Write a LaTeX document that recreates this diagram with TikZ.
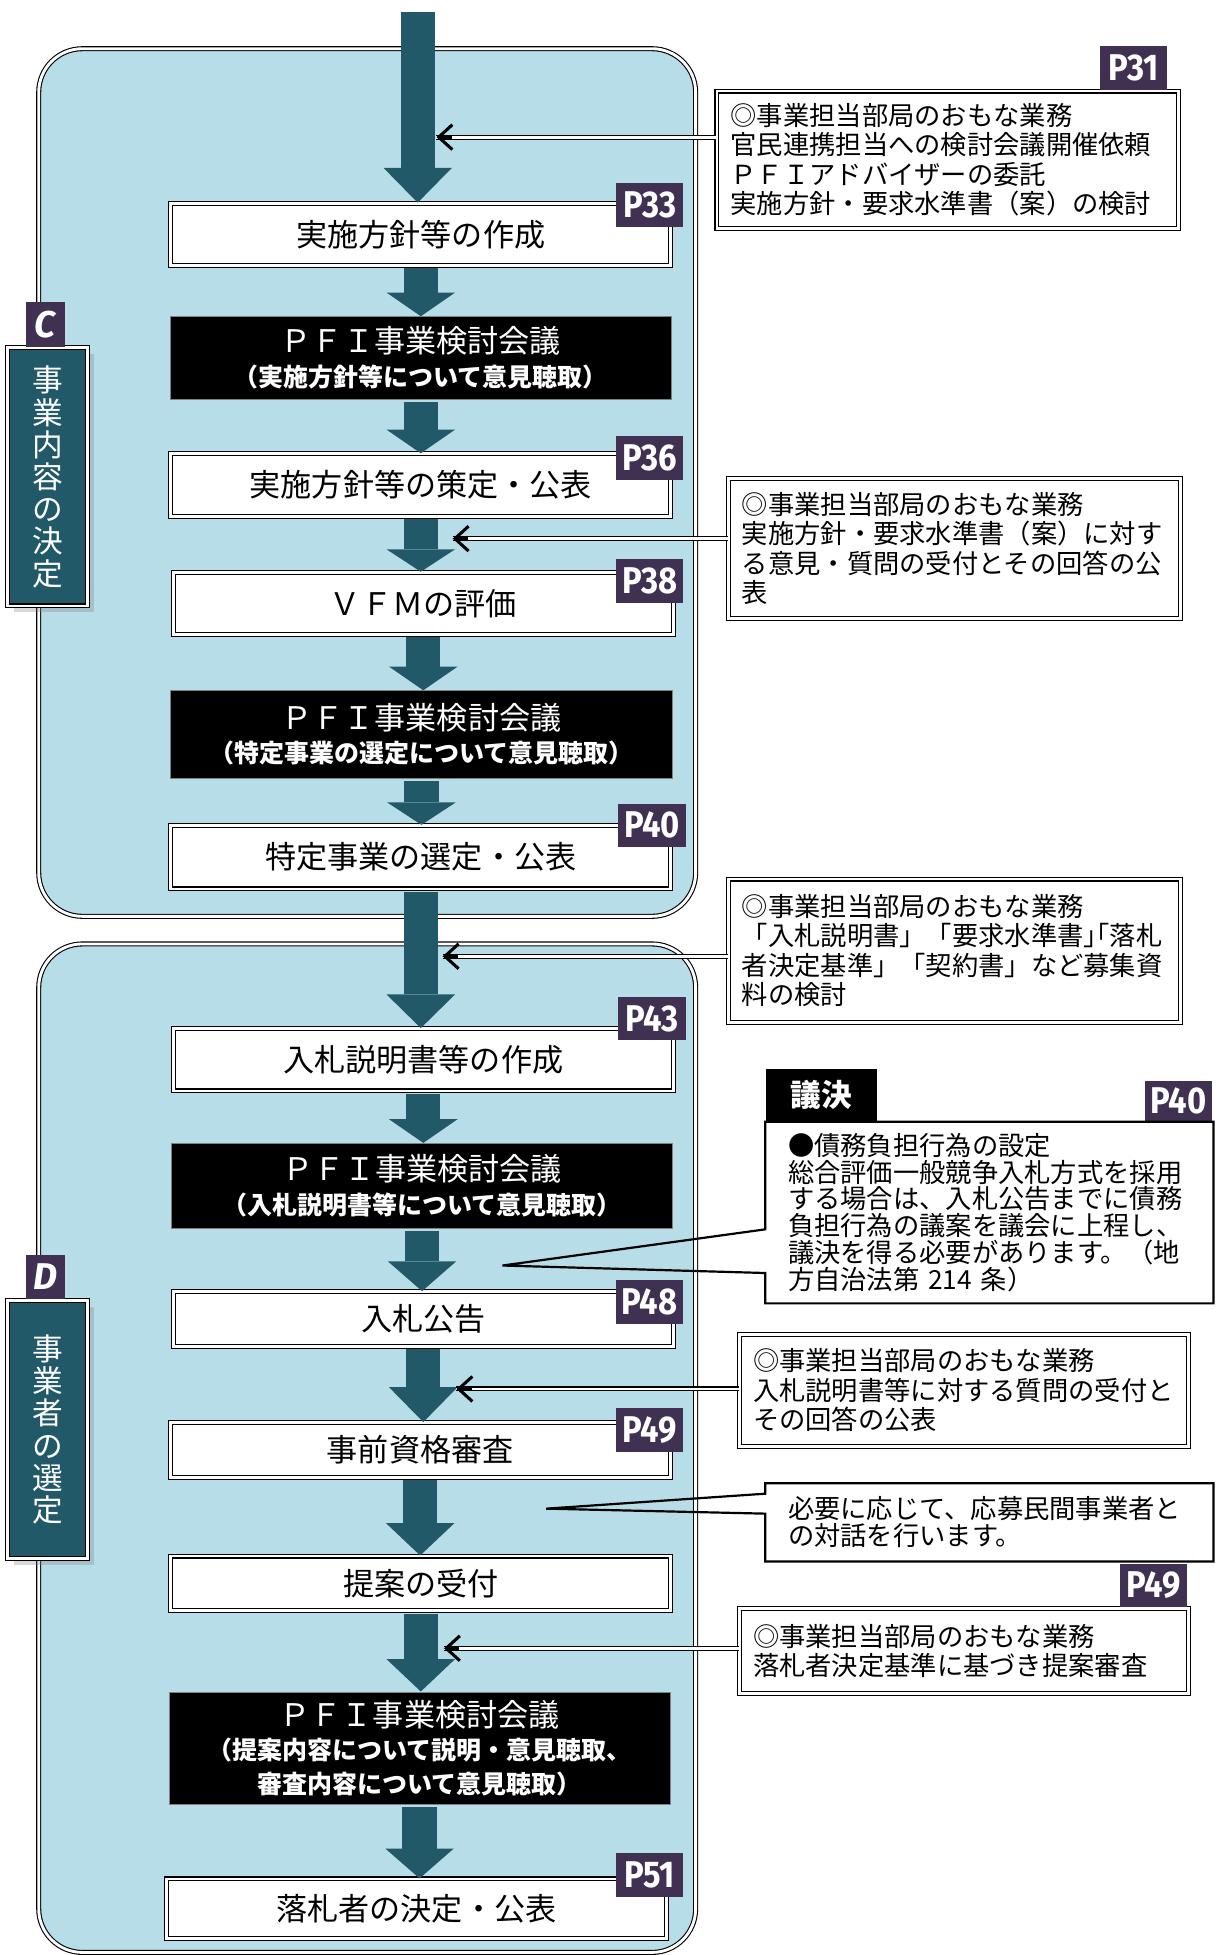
\documentclass[tikz,border=0pt]{standalone}
\usepackage{fontspec}
\setmainfont{Noto Sans CJK JP}
\newfontfamily\pnofont{Fira Sans}
\usetikzlibrary{arrows.meta,shadows,positioning}

\definecolor{panelc}{HTML}{B7DDE8}
\definecolor{arrowc}{HTML}{215968}
\definecolor{badgec}{HTML}{403152}

\newcommand\pno[1]{\scalebox{0.88}[1]{P#1}}
\newcommand\hw[1]{{\addfontfeature{RawFeature=+halt}#1}}

\tikzset{
  dline/.style={draw=black, double=white, double distance=1.3pt, line width=0.5pt},
  panel/.style={dline, fill=panelc, rounded corners=0.7cm, minimum width=10.54cm},
  stepbox/.style={dline, fill=white, minimum width=8.02cm, minimum height=1cm,
    inner sep=0pt, font=\fontsize{14.2}{16}\selectfont},
  meetbox/.style={draw=gray, fill=black, text=white, minimum width=8.04cm,
    align=center, inner sep=0pt, font=\bfseries\fontsize{11.4}{15.2}\selectfont},
  flow/.style={draw=arrowc, line width=0.55cm, shorten <=1pt,
    -{Triangle[length=#1, width=1.1cm, line width=0pt]}},
  flow/.default=0.38cm,
  badge/.style={fill=badgec, text=white, inner sep=0pt, minimum width=1.08cm,
    minimum height=0.7cm, font=\pnofont\bfseries\fontsize{17}{17}\selectfont},
  tag/.style={fill=badgec, text=white, inner sep=0pt, minimum width=0.62cm,
    minimum height=0.72cm, font=\pnofont\bfseries\itshape\fontsize{17}{17}\selectfont},
  sidebox/.style={dline, fill=arrowc, text=white, minimum width=1.28cm, align=center,
    inner sep=0pt, font=\fontsize{14}{14.7}\selectfont,
    drop shadow={shadow xshift=0.1cm, shadow yshift=-0.1cm, opacity=0.3}},
  memo/.style={dline, fill=white, align=left, inner xsep=0.22cm, inner ysep=0pt,
    font=\fontsize{12}{13.4}\selectfont},
  note/.style={align=left, inner xsep=0.36cm, inner ysep=0pt, text width=6.46cm,
    font=\fontsize{12}{12.2}\selectfont},
  tabbox/.style={fill=black, text=white, minimum width=1.78cm, minimum height=0.84cm,
    inner sep=0pt, font=\bfseries\fontsize{14}{14}\selectfont},
  link/.style={dline},
  barb/.style={draw=black, line width=1.4pt, -{Straight Barb[length=0.22cm, width=0.4cm]}},
  bubble/.style={draw=black, line width=1pt},
}

\begin{document}
\begin{tikzpicture}[x=0.02cm, y=-0.02cm]
  \useasboundingbox (0,0) rectangle (980,1568);

  % panels
  \node[panel, minimum height=13.92cm] (panelC) at (294.5,387) {};
  \node[panel, minimum height=16.18cm] (panelD) at (294.5,1161.5) {};

  % side labels
  \node[sidebox, minimum height=4.14cm] (sideC) at (38,382.5) {事\\業\\内\\容\\の\\決\\定};
  \node[tag, anchor=south] (tagC) at ([xshift=-0.03cm]sideC.north) {C};
  \node[sidebox, minimum height=4.14cm] (sideD) at (38,1146.5) {事\\業\\者\\の\\選\\定};
  \node[tag, anchor=south] (tagD) at ([xshift=-0.03cm]sideD.north) {D};

  % steps
  \node[stepbox] (b1) at (337.5,188) {実施方針等の作成};
  \node[meetbox, minimum height=1.32cm] (k1) at (337.5,287)
    {{\mdseries\fontsize{14.2}{15.2}\selectfont ＰＦＩ事業検討会議}\\（実施方針等について意見聴取）};
  \node[stepbox] (b2) at (337.5,389) {実施方針等の策定・公表};
  \node[stepbox] (b3) at (339.5,484) {ＶＦＭの評価};
  \node[meetbox, minimum height=1.4cm] (k2) at (338,589)
    {{\mdseries\fontsize{14.2}{15.2}\selectfont ＰＦＩ事業検討会議}\\（特定事業の選定について意見聴取）};
  \node[stepbox, minimum height=1.02cm] (b4) at (337.5,687.5) {特定事業の選定・公表};
  \node[stepbox] (b5) at (339.5,850) {入札説明書等の作成};
  \node[meetbox, minimum height=1.36cm] (k3) at (338.5,951)
    {{\mdseries\fontsize{14.2}{15.2}\selectfont ＰＦＩ事業検討会議}\\（入札説明書等について意見聴取）};
  \node[stepbox, minimum height=0.88cm] (b6) at (339.5,1058) {入札公告};
  \node[stepbox, minimum height=0.88cm] (b7) at (337,1163) {事前資格審査};
  \node[stepbox, minimum height=0.88cm] (b8) at (337.5,1270) {提案の受付};
  \node[meetbox, minimum height=1.8cm] (k4) at (336.5,1402)
    {{\mdseries\fontsize{14.2}{15.2}\selectfont ＰＦＩ事業検討会議}\\（提案内容について説明・意見聴取、\\審査内容について意見聴取）};
  \node[stepbox, minimum height=0.96cm] (b9) at (334,1531) {落札者の決定・公表};

  % page badges
  \node[badge] (p33) at (521,164.5) {\pno{33}};
  \node[badge] (p36) at (521,367.5) {\pno{36}};
  \node[badge] (p38) at (521,466) {\pno{38}};
  \node[badge] (p40) at (523,662) {\pno{40}};
  \node[badge] (p43) at (523,817) {\pno{43}};
  \node[badge] (p48) at (521,1044) {\pno{48}};
  \node[badge] (p49) at (521,1147) {\pno{49}};
  \node[badge] (p51) at (521,1504) {\pno{51}};

  % flow arrows
  \coordinate (top) at (335,8);
  \draw[flow=0.56cm] (top) -- (top |- b1.north);
  \draw[flow] (b1.south) -- (b1.south |- k1.north);
  \draw[flow] (k1.south) -- (k1.south |- b2.north);
  \draw[flow=0.36cm] (b2.south) -- (b2.south |- b3.north);
  \draw[flow] (b3.south) -- (b3.south |- k2.north);
  \draw[flow=0.36cm] (k2.south) -- (k2.south |- b4.north);
  \draw[flow=0.54cm] (b4.south) -- (b4.south |- b5.north);
  \draw[flow] (b5.south) -- (b5.south |- k3.north);
  \draw[flow=0.48cm] (k3.south) -- (k3.south |- b6.north);
  \draw[flow=0.56cm] (b6.south) -- (b6.south |- b7.north);
  \draw[flow=0.52cm] (b7.south) -- (b7.south |- b8.north);
  \draw[flow=0.52cm] (b8.south) -- (b8.south |- k4.north);
  \draw[flow=0.48cm] (k4.south) -- (k4.south |- b9.north);

  % tasks of the department
  \node[memo, text width=6.96cm, minimum height=2.2cm] (cb1) at (760,128)
    {◎事業担当部局のおもな業務\\官民連携担当への検討会議開催依頼\\ＰＦＩアドバイザーの委託\\実施方針・要求水準書（案）の検討};
  \node[badge, anchor=south east] (p31) at ([xshift=-0.18cm]cb1.north east) {\pno{31}};
  \node[memo, text width=6.82cm, minimum height=2.24cm] (cb2) at (765.5,440)
    {◎事業担当部局のおもな業務\\実施方針・要求水準書（案）に対す\\る意見・質問の受付とその回答の公\\表};
  \node[memo, text width=6.82cm, minimum height=2.3cm] (cb3) at (765.5,762.5)
    {◎事業担当部局のおもな業務\\「入札説明書」「要求水準書\hw{」「}落札\\者決定基準」「契約書」など募集資\\料の検討};
  \node[memo, text width=6.76cm, minimum height=1.8cm] (cb4) at (773,1115)
    {◎事業担当部局のおもな業務\\入札説明書等に対する質問の受付と\\その回答の公表};
  \node[memo, text width=6.76cm, minimum height=1.36cm] (cb5) at (773,1324)
    {◎事業担当部局のおもな業務\\落札者決定基準に基づき提案審査};
  \node[badge, anchor=south east] (p49b) at ([xshift=-0.02cm]cb5.north east) {\pno{49}};

  \coordinate (t1) at (350,110);
  \coordinate (t2) at (363,432);
  \coordinate (t3) at (355,767);
  \coordinate (t4) at (366,1114);
  \coordinate (t5) at (356,1322);
  \draw[link] (cb1.west |- t1) -- (t1);
  \draw[link] (cb2.west |- t2) -- (t2);
  \draw[link] (cb3.west |- t3) -- (t3);
  \draw[link] (cb4.west |- t4) -- (t4);
  \draw[link] (cb5.west |- t5) -- (t5);
  \draw[barb] ([xshift=0.25cm]t1) -- (t1);
  \draw[barb] ([xshift=0.25cm]t2) -- (t2);
  \draw[barb] ([xshift=0.25cm]t3) -- (t3);
  \draw[barb] ([xshift=0.25cm]t4) -- (t4);
  \draw[barb] ([xshift=0.25cm]t5) -- (t5);

  % resolution of the assembly
  \node[note, minimum height=2.9cm] (gk) at (793.5,972.5)
    {●債務負担行為の設定\\総合評価一般競争入札方式を採用\\する場合は、入札公告までに債務\\負担行為の議案を議会に上程し、\\議決を得る必要があります。（地\\方自治法第 214 条）};
  \node[tabbox, anchor=south west] (gkTab) at (gk.north west) {議決};
  \node[badge, anchor=south east, minimum height=0.64cm] (p40b) at ([xshift=-0.02cm]gk.north east) {\pno{40}};
  \coordinate (gtip) at (403,1015);
  \draw[bubble] (gk.west |- 0,986) -- (gk.north west) -- (gk.north east) -- (gk.south east)
    -- (gk.south west) -- (gk.west |- 0,1021) -- (gtip) -- cycle;

  % dialogue
  \node[note, minimum height=1.24cm] (nd) at (793.5,1221)
    {必要に応じて、応募民間事業者と\\の対話を行います。};
  \coordinate (ntip) at (438,1210);
  \draw[bubble] (nd.west |- 0,1198) -- (nd.north west) -- (nd.north east) -- (nd.south east)
    -- (nd.south west) -- (nd.west |- 0,1214) -- (ntip) -- cycle;
\end{tikzpicture}
\end{document}
